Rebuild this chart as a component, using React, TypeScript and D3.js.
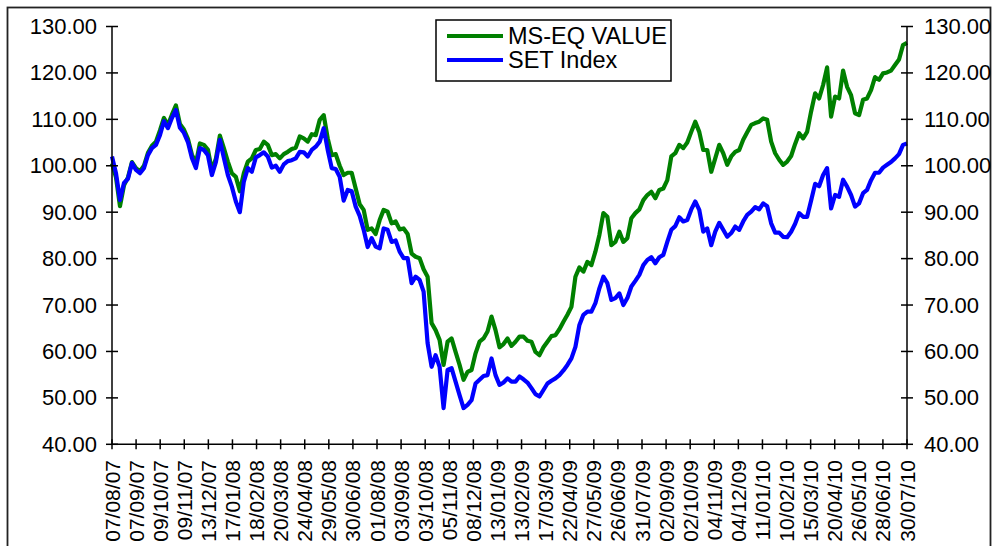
import React from "react";
import * as d3 from "d3";

const dateLabels = [
  "07/08/07", "07/09/07", "09/10/07", "09/11/07", "13/12/07", "17/01/08", "18/02/08",
  "20/03/08", "24/04/08", "29/05/08", "30/06/08", "01/08/08", "03/09/08", "03/10/08",
  "05/11/08", "08/12/08", "13/01/09", "13/02/09", "17/03/09", "22/04/09", "27/05/09",
  "26/06/09", "31/07/09", "02/09/09", "02/10/09", "04/11/09", "04/12/09", "11/01/10",
  "10/02/10", "15/03/10", "20/04/10", "26/05/10", "28/06/10", "30/07/10",
];

const yTicks = [40, 50, 60, 70, 80, 90, 100, 110, 120, 130];

const setIndex = [
  102, 98.4, 92.6, 96.3, 97.2, 100.6, 99.1, 98.4, 99.5, 102.3,
  103.8, 104.5, 106.6, 109.6, 108.1, 110.3, 112, 108.2, 107.1, 105.1,
  101.7, 99.5, 103.8, 103.4, 102.3, 98, 100.8, 105.6, 101.7, 98.0,
  95.5, 92.3, 90, 96.6, 99.5, 98.7, 101.8, 102.3, 102.9, 102,
  99.6, 100, 98.7, 100.3, 101, 101.2, 101.6, 103, 102.9, 102,
  103.4, 104.1, 105.2, 108.1, 103.4, 99.5, 99.3, 97.6, 92.5, 94.8,
  94.5, 91.2, 89.2, 86.2, 82.5, 84.4, 82.6, 82.2, 86.5, 86.2,
  83.6, 83.9, 81.5, 80.1, 80.1, 74.7, 76.1, 75.4, 72.9, 61.8,
  56.7, 59.2, 56.7, 47.8, 56.0, 56.4, 53.5, 50.6, 47.8, 48.5,
  49.5, 53.1, 53.9, 54.7, 54.9, 58.5, 54.9, 52.8, 53.3, 54.2,
  53.5, 53.5, 54.6, 54.0, 53.3, 52.1, 50.8, 50.3, 51.7, 53.1,
  53.7, 54.2, 54.9, 55.9, 57.1, 58.5, 61.0, 65.7, 67.9, 68.6,
  68.6, 70.4, 73.6, 76.1, 74.7, 71.1, 71.5, 72.5, 70, 71.5,
  74, 75.2, 76.5, 78.6, 79.7, 80.3, 79.0, 80.3, 80.8, 83.6,
  86.2, 87.0, 88.9, 88, 88.3, 90.6, 92.3, 90.5, 85.8, 86.5,
  82.9, 85.8, 87.7, 86.2, 84.7, 85.5, 86.9, 86.2, 88, 89.4,
  90.1, 91.1, 90.6, 91.9, 91.3, 87.6, 85.6, 85.6, 84.7, 84.6,
  85.8, 87.5, 89.8, 89.0, 89.0, 92.5, 96.1, 95.6, 98, 99.5,
  90.8, 93.7, 93.3, 97, 95.5, 93.7, 91.2, 91.9, 94.1, 94.8,
  96.9, 98.5, 98.5, 99.6, 100.2, 100.8, 101.6, 102.5, 104.5, 104.8,
];

const msEqValue = [
  100.5, 97.5, 91.3, 95.8, 97.5, 100.8, 99.5, 98.8, 100, 102.8,
  104.3, 105.2, 107.6, 110.3, 108.8, 111, 113, 109, 107.8, 105.8,
  102.4, 100.5, 104.8, 104.5, 103.5, 99, 101.5, 106.5, 103.8, 100.9,
  98.4, 97.6, 94.5, 98.4, 100.9, 101.6, 103.4, 103.6, 105.2, 104.5,
  102.3, 102.5, 101.6, 102.5, 103, 103.6, 103.9, 106.3, 105.9, 105.2,
  106.8, 106.6, 109.9, 110.9, 105.9, 102.3, 102.5, 100, 98, 98.5,
  98.5, 95.1, 91.7, 90.5, 86.2, 86.5, 85.3, 88.3, 90.5, 90.1,
  87.6, 88.0, 86.3, 86.5, 85.3, 81.1, 80.4, 80.1, 77.7, 76.1,
  66.1, 64.6, 62.5, 57.1, 62.1, 62.8, 59.9, 57.1, 53.9, 55.6,
  56, 59.6, 62.1, 62.8, 64.3, 67.5, 64.6, 60.9, 61.6, 62.8,
  61.2, 62.1, 63.2, 63.2, 62.3, 62.1, 59.9, 59.2, 60.9, 62.1,
  63.3, 63.5, 64.8, 66.4, 67.9, 69.6, 76.1, 78.1, 77.2, 79.3,
  78.6, 81.5, 85.1, 89.8, 89.0, 82.9, 83.6, 85.8, 83.6, 84.4,
  88.7, 89.8, 90.6, 92.6, 93.7, 94.4, 93.0, 94.8, 95.1, 96.9,
  102.0, 102.7, 104.5, 103.8, 105, 107.3, 109.5, 107.3, 103.4, 103.4,
  98.7, 101.6, 104.5, 102.7, 100.2, 102, 103, 103.4, 105.6, 107.2,
  108.8, 109.2, 109.5, 110.2, 109.9, 105.2, 102.7, 101.3, 100.2, 100.9,
  102.1, 104.7, 107, 105.9, 107.3, 111.7, 115.6, 114.5, 117.4, 121.2,
  110.6, 114.9, 114.5, 120.5, 117, 115.2, 111.3, 110.9, 114.2, 114.5,
  116.3, 119.1, 118.5, 119.9, 120.1, 120.5, 121.7, 122.9, 126.0, 126.5,
];

const seriesNames = ["MS-EQ VALUE", "SET Index"];
const seriesColors = ["#008000", "#0000ff"];

const FONT = "'Liberation Sans', Arial, Helvetica, sans-serif";

export default function App() {
  const W = 993;
  const H = 546;
  const left = 112;
  const right = 907;
  const top = 26.5;
  const bottom = 444.3;
  const n = setIndex.length;

  const x = d3.scaleLinear().domain([0, n - 1]).range([left, right]);
  const y = d3.scaleLinear().domain([40, 130]).range([bottom, top]);

  const line = d3
    .line<number>()
    .x((_, i) => x(i))
    .y((d) => y(d))
    .curve(d3.curveLinear);

  const tickCount = dateLabels.length - 1;
  const tickIdx = dateLabels.map((_, k) => (k * (n - 1)) / tickCount);

  return (
    <svg
      width={W}
      height={H}
      style={{ position: "absolute", left: 0, top: 0, background: "#fff" }}
      fontFamily={FONT}
    >
      <rect x={0} y={0} width={W} height={H} fill="#fff" />
      <rect x={7.5} y={7.5} width={983} height={600} fill="none" stroke="#222" strokeWidth={1.8} />

      {/* series */}
      <path d={line(msEqValue) || ""} fill="none" stroke={seriesColors[0]} strokeWidth={4.2} strokeLinejoin="round" />
      <path d={line(setIndex) || ""} fill="none" stroke={seriesColors[1]} strokeWidth={4.2} strokeLinejoin="round" />

      {/* axes */}
      <line x1={left} x2={left} y1={top} y2={bottom} stroke="#000" strokeWidth={1.5} />
      <line x1={right} x2={right} y1={top} y2={bottom} stroke="#000" strokeWidth={1.5} />
      <line x1={left} x2={right} y1={bottom} y2={bottom} stroke="#000" strokeWidth={1.5} />

      {yTicks.map((t) => (
        <g key={"yl" + t}>
          <line x1={left - 6} x2={left + 6} y1={y(t)} y2={y(t)} stroke="#000" strokeWidth={1.5} />
          <text x={97} y={y(t)} textAnchor="end" dominantBaseline="central" fontSize={22} fill="#000">
            {t.toFixed(2)}
          </text>
          <line x1={right - 6} x2={right + 6} y1={y(t)} y2={y(t)} stroke="#000" strokeWidth={1.5} />
          <text x={924} y={y(t)} textAnchor="start" dominantBaseline="central" fontSize={22} fill="#000">
            {t.toFixed(2)}
          </text>
        </g>
      ))}

      {dateLabels.map((lab, k) => {
        const tx = x(tickIdx[k]);
        return (
          <g key={"xl" + k}>
            <line x1={tx} x2={tx} y1={bottom - 5} y2={bottom + 5} stroke="#000" strokeWidth={1.5} />
            <text
              transform={`translate(${tx},${460}) rotate(-90)`}
              textAnchor="end"
              dominantBaseline="central"
              fontSize={21}
              fill="#000"
            >
              {lab}
            </text>
          </g>
        );
      })}

      {/* legend */}
      <rect x={436} y={20} width={235} height={61} fill="#fff" stroke="#000" strokeWidth={1.5} />
      {seriesNames.map((name, i) => (
        <g key={name}>
          <line x1={447} x2={503} y1={36 + i * 24} y2={36 + i * 24} stroke={seriesColors[i]} strokeWidth={4.2} />
          <text x={508} y={36 + i * 24} dominantBaseline="central" fontSize={23.5} fill="#000">
            {name}
          </text>
        </g>
      ))}
    </svg>
  );
}
